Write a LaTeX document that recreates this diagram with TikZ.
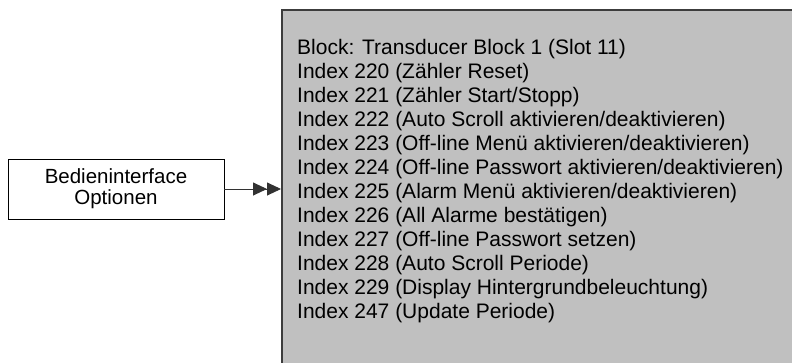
\documentclass[tikz,border=0pt]{standalone}
\usepackage{fontspec}
\setmainfont{Liberation Sans}
\usetikzlibrary{arrows.meta}
\definecolor{panelgray}{RGB}{192,192,192}
\definecolor{paneledge}{RGB}{60,60,60}
\definecolor{linegray}{RGB}{50,50,50}
\begin{document}
\begin{tikzpicture}[x=1pt,y=1pt,
  optbox/.style={draw=black, line width=0.9pt, fill=white, minimum width=216pt, minimum height=60pt, inner sep=0pt, align=center, font=\fontsize{20.5}{21}\selectfont},
  panelbox/.style={draw=paneledge, line width=1.6pt, fill=panelgray, minimum width=530pt, minimum height=370pt, inner sep=0pt, anchor=north west},
  listtext/.style={anchor=north west, inner sep=0pt, align=left, font=\fontsize{21}{24}\selectfont},
  link/.style={draw=linegray, line width=0.9pt, -{Triangle[length=14pt,width=13pt]Triangle[length=14pt,width=13pt]}}]
\useasboundingbox (0,0) rectangle (792,-362);
\clip (0,0) rectangle (792,-362);
\node[panelbox] (panel) at (281,-9) {};
\node[listtext] (list) at (297,-39.2) {Block: Transducer Block 1 (Slot 11)\\
Index 220 (Zähler Reset)\\
Index 221 (Zähler Start/Stopp)\\
Index 222 (Auto Scroll aktivieren/deaktivieren)\\
Index 223 (Off-line Menü aktivieren/deaktivieren)\\
Index 224 (Off-line Passwort aktivieren/deaktivieren)\\
Index 225 (Alarm Menü aktivieren/deaktivieren)\\
Index 226 (All Alarme bestätigen)\\
Index 227 (Off-line Passwort setzen)\\
Index 228 (Auto Scroll Periode)\\
Index 229 (Display Hintergrundbeleuchtung)\\
Index 247 (Update Periode)};
\node[optbox] (opt) at (116,-189) {Bedieninterface\\Optionen};
\draw[link] (opt.east) -- (opt.east -| panel.west);
\end{tikzpicture}
\end{document}
